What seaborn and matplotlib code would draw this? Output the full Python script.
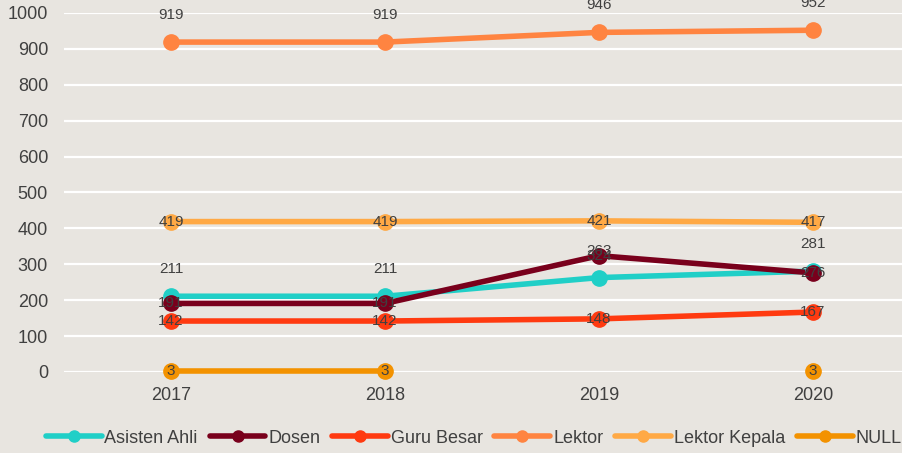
import numpy as np
import pandas as pd
import matplotlib.pyplot as plt
import seaborn as sns


# =========================================
# DATA
# =========================================

years = ["2017", "2018", "2019", "2020"]

asisten_ahli = [211, 211, 263, 281]
dosen = [191, 191, 324, 276]
guru_besar = [142, 142, 148, 167]
lektor = [919, 919, 946, 952]
lektor_kepala = [419, 419, 421, 417]
null_values = [3, 3, np.nan, 3]

series_names = ["Asisten Ahli", "Dosen", "Guru Besar", "Lektor", "Lektor Kepala", "NULL"]
series_values = [asisten_ahli, dosen, guru_besar, lektor, lektor_kepala, null_values]

colors = ["#20CFC7", "#79001C", "#FF3A10", "#FF8441", "#FFA945", "#F39200"]
# label offset in pixels (positive = above the point)
label_offset = [27, 0, 0, 27, 0, 0]


# =========================================
# FIGURE
# =========================================

sns.set_theme(style="white")
plt.rcParams["font.family"] = ["Liberation Sans", "DejaVu Sans"]

bg = "#E8E5E0"
text_color = "#404040"

fig = plt.figure(figsize=(9.02, 4.53), dpi=100, facecolor=bg)

# axes extends past the right edge, like the cropped original
ax = fig.add_axes([64 / 902, 81 / 453, 856 / 902, 359 / 453])
ax.set_facecolor(bg)

for name, vals, color, off in zip(series_names, series_values, colors, label_offset):

    df = pd.DataFrame({"x": np.arange(len(years)), "y": vals})

    # split into contiguous segments so missing years leave a gap
    seg_id = df["y"].isna().cumsum()
    valid = df.dropna()

    for _, seg in valid.groupby(seg_id[valid.index]):
        if len(seg) > 1:
            sns.lineplot(
                data=seg, x="x", y="y", ax=ax, color=color,
                linewidth=4, estimator=None, sort=False,
                legend=False, zorder=3, clip_on=False
            )
        ax.plot(seg["x"], seg["y"], linestyle="none", marker="o",
                markersize=11, color=color, zorder=4, clip_on=False)

    for xi, yi in zip(valid["x"], valid["y"]):
        ax.annotate(
            f"{int(yi)}", (xi, yi), xytext=(0, off * 0.72),
            textcoords="offset points", ha="center", va="center",
            fontsize=11, color=text_color, zorder=5, annotation_clip=False
        )

ax.set_xlim(-0.5, 3.5)
ax.set_ylim(0, 1000)
ax.set_yticks(range(0, 1001, 100))
ax.set_xticks(range(len(years)))
ax.set_xticklabels(years)

ax.grid(axis="y", color="white", linewidth=1.6, zorder=0)
ax.set_axisbelow(True)

ax.tick_params(axis="y", length=0, pad=11.5, labelsize=13, labelcolor=text_color)
ax.tick_params(axis="x", length=0, pad=11, labelsize=13, labelcolor=text_color)
ax.set_xlabel("")
ax.set_ylabel("")

for spine in ax.spines.values():
    spine.set_visible(False)


# =========================================
# LEGEND
# =========================================

handles = [
    plt.Line2D([0], [0], color=c, linewidth=4, marker="o", markersize=8)
    for c in colors
]

fig.legend(
    handles, series_names, loc="center", bbox_to_anchor=(0.525, 0.033),
    ncol=6, frameon=False, fontsize=13, handlelength=3.1,
    handletextpad=0.15, columnspacing=0.65, labelcolor=text_color
)

plt.savefig("out.png", dpi=100, facecolor=bg)
